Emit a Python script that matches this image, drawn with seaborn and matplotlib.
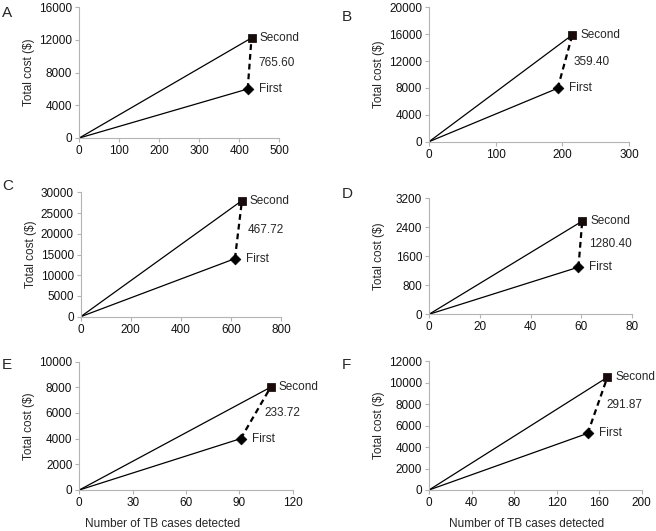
import numpy as np
import pandas as pd
import matplotlib
matplotlib.use("Agg")
import matplotlib.pyplot as plt
import seaborn as sns

# ── Data ──────────────────────────────────────────────────────────────
panels       = ["A", "B", "C", "D", "E", "F"]
cases_first  = [421, 193, 616, 58.8, 90.8, 149.2]
cost_first   = [6000, 7950, 14000, 1300, 4000, 5280]
cases_second = [430.5, 215, 644, 60.3, 107.6, 167.7]
cost_second  = [12250, 15900, 28000, 2570, 8000, 10500]
icer_labels  = ["765.60", "359.40", "467.72", "1280.40", "233.72", "291.87"]
x_ticks = [[0, 100, 200, 300, 400, 500],
           [0, 100, 200, 300],
           [0, 200, 400, 600, 800],
           [0, 20, 40, 60, 80],
           [0, 30, 60, 90, 120],
           [0, 40, 80, 120, 160, 200]]
y_ticks = [[0, 4000, 8000, 12000, 16000],
           [0, 4000, 8000, 12000, 16000, 20000],
           [0, 5000, 10000, 15000, 20000, 25000, 30000],
           [0, 800, 1600, 2400, 3200],
           [0, 2000, 4000, 6000, 8000, 10000],
           [0, 2000, 4000, 6000, 8000, 10000, 12000]]

# ── Layout (pixel boxes: left, right, top, bottom) ────────────────────
W, H = 656, 531
boxes = [(79.3, 279.3, 7.3, 138.0),
         (429.0, 629.0, 7.3, 141.7),
         (80.7, 281.0, 192.3, 316.7),
         (429.0, 632.3, 198.3, 314.3),
         (79.3, 292.7, 361.5, 490.0),
         (429.0, 641.7, 361.2, 490.0)]
letter_pos = [(2, 6), (342, 10), (2, 179), (342, 187), (2, 358), (342, 358)]
xlabel_cx = {4: 162.5, 5: 526.7}

sns.set_theme(style="white")
plt.rcParams["font.family"] = ["Liberation Sans", "DejaVu Sans"]
FS = 8.5
SPINE = "#b4b4b4"

fig = plt.figure(figsize=(W / 100, H / 100), dpi=100)

for i, p in enumerate(panels):
    l, r, t, b = boxes[i]
    ax = fig.add_axes([l / W, 1 - b / H, (r - l) / W, (b - t) / H])

    seg = pd.DataFrame({
        "x": [0, cases_first[i], 0, cases_second[i]],
        "y": [0, cost_first[i], 0, cost_second[i]],
        "line": ["first", "first", "second", "second"],
    })
    for name, d in seg.groupby("line"):
        sns.lineplot(data=d, x="x", y="y", ax=ax, color="black", lw=0.9,
                     sort=False, estimator=None)
    sns.lineplot(x=[cases_first[i], cases_second[i]],
                 y=[cost_first[i], cost_second[i]], ax=ax, color="black",
                 lw=1.6, linestyle=(0, (2.6, 1.8)), sort=False, estimator=None)
    sns.scatterplot(x=[cases_first[i]], y=[cost_first[i]], ax=ax, marker="D",
                    s=30, color="black", edgecolor="black", linewidth=0.5, zorder=5)
    sns.scatterplot(x=[cases_second[i]], y=[cost_second[i]], ax=ax, marker="s",
                    s=30, color="#1a0a0a", edgecolor="black", linewidth=0.5, zorder=5)

    ax.annotate("Second", (cases_second[i], cost_second[i]), xytext=(8, 0),
                textcoords="offset pixels", ha="left", va="center", fontsize=FS)
    ax.annotate("First", (cases_first[i], cost_first[i]), xytext=(11, 0),
                textcoords="offset pixels", ha="left", va="center", fontsize=FS)
    mx = (cases_first[i] + cases_second[i]) / 2
    my = (cost_first[i] + cost_second[i]) / 2
    ax.annotate(icer_labels[i], (mx, my), xytext=(9, 0),
                textcoords="offset pixels", ha="left", va="center", fontsize=FS)

    ax.set_xlim(x_ticks[i][0], x_ticks[i][-1])
    ax.set_ylim(y_ticks[i][0], y_ticks[i][-1])
    ax.set_xticks(x_ticks[i])
    ax.set_yticks(y_ticks[i])
    ax.tick_params(axis="both", which="major", direction="out", length=3,
                   width=0.8, color=SPINE, labelsize=FS, pad=2,
                   labelcolor="#111111", bottom=True, left=True)
    for s in ["top", "right"]:
        ax.spines[s].set_visible(False)
    for s in ["left", "bottom"]:
        ax.spines[s].set_color(SPINE)
        ax.spines[s].set_linewidth(0.8)

    ax.set_ylabel("Total cost ($)", fontsize=FS)
    ax.yaxis.set_label_coords((l - 44) / W, 1 - (t + b) / 2 / H,
                              transform=fig.transFigure)
    if i in xlabel_cx:
        ax.set_xlabel("Number of TB cases detected", fontsize=FS)
        ax.xaxis.set_label_coords(xlabel_cx[i] / W, 1 - 518 / H,
                                  transform=fig.transFigure)
    else:
        ax.set_xlabel("")

    lx, ly = letter_pos[i]
    fig.text(lx / W, 1 - ly / H, p, ha="left", va="top", fontsize=11)

fig.savefig("out.png", dpi=100)
